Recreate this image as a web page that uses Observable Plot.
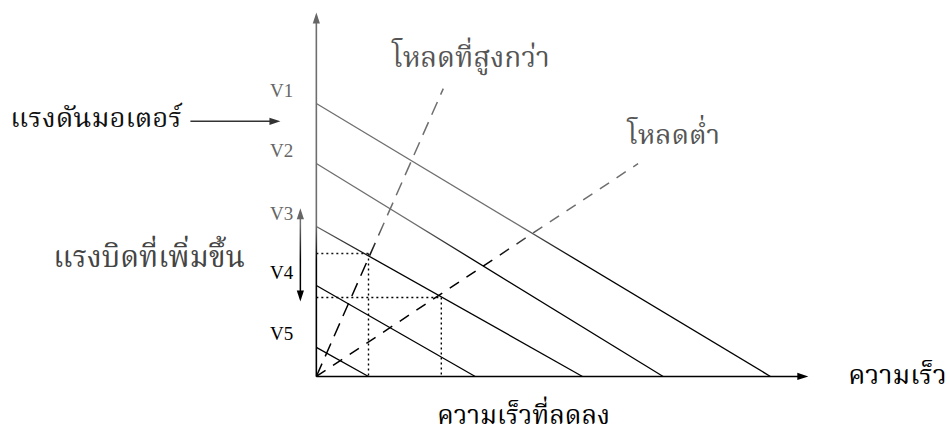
<!DOCTYPE html>
<html>
<head>
<meta charset="utf-8">
<script src="https://cdn.jsdelivr.net/npm/d3@7"></script>
<script src="https://cdn.jsdelivr.net/npm/@observablehq/plot@0.6"></script>
<style>
  body { margin: 0; background: #fff; }
</style>
</head>
<body>
<div id="chart"></div>
<script>
// Speed–torque lines of a DC motor at five supply voltages.
// Speed (x) and torque (y) are given in percent of the drawn axis length.
const voltages    = ["V1", "V2", "V3", "V4", "V5"];
const stallTorque = [75.0, 58.5, 41.2, 25.0, 8.0];   // torque at zero speed
const noLoadSpeed = [92.3, 70.5, 54.1, 32.3, 10.6];  // speed at zero torque

// Load lines start at the origin; these are their far ends
const loads         = ["โหลดที่สูงกว่า", "โหลดต่ำ"];
const loadEndSpeed  = [25.8, 65.4];
const loadEndTorque = [79.1, 58.5];

// Operating points where each load line meets the V3 line
const opSpeed  = [10.6, 25.4];
const opTorque = [33.8, 21.7];

// Axis and annotation texts
const axisLabels = {
  voltage: "แรงดันมอเตอร์",
  torqueUp: "แรงบิดที่เพิ่มขึ้น",
  speed: "ความเร็ว",
  speedDown: "ความเร็วที่ลดลง"
};

const motorLines = voltages.map((v, i) => ({v, t0: stallTorque[i], s0: noLoadSpeed[i]}));
const loadLines = loads.map((name, i) => ({name, s: loadEndSpeed[i], t: loadEndTorque[i]}));
const opPoints = opSpeed.map((s, i) => ({s, t: opTorque[i]}));

const thai = "'Noto Serif Thai','Noto Sans Thai','Laksaman','Norasi','Garuda','Loma',serif";
const ink = "url(#scan)";   // grey at the top, black at the bottom

const head = (data, opts) => Plot.vector(data, {
  length: 11, r: 3.6, shape: "spike", anchor: "end", stroke: "none", ...opts
});

const label = (text, opts) => Plot.text([text], {
  text: d => d, textAnchor: "start", lineAnchor: "bottom", fontFamily: thai, ...opts
});

const chart = Plot.plot({
  width: 950,
  height: 432,
  margin: 0,
  x: {domain: [-64.2, 128.9], axis: null},
  y: {domain: [-15.4, 103.3], axis: null},
  color: {type: "identity"},
  style: {background: "#fff", overflow: "visible"},
  marks: [
    // axes
    Plot.link([0], {x1: 0, y1: 0, x2: 0, y2: 99, stroke: ink, strokeWidth: 1.6}),
    head([0], {x: 0, y: 100, rotate: 0, fill: "#666"}),
    Plot.link([0], {x1: 0, y1: 0, x2: 99, y2: 0, stroke: "#000", strokeWidth: 1.6}),
    head([0], {x: 100, y: 0, rotate: 90, fill: "#000"}),

    // motor lines for each voltage
    Plot.link(motorLines, {x1: 0, y1: "t0", x2: "s0", y2: 0, stroke: ink, strokeWidth: 1.3}),
    Plot.text(motorLines, {
      x: 0, y: "t0", text: "v", dx: -23, dy: -13, textAnchor: "end",
      fontFamily: "'Liberation Serif', serif", fontSize: 19,
      fill: d => (d.t0 > 35 ? "#666" : "#000")
    }),

    // load lines
    Plot.link(loadLines.slice(0, 1), {x1: 0, y1: 0, x2: "s", y2: "t", stroke: ink, strokeWidth: 1.5, strokeDasharray: "14,8"}),
    Plot.link(loadLines.slice(1), {x1: 0, y1: 0, x2: "s", y2: "t", stroke: ink, strokeWidth: 1.5, strokeDasharray: "11,9"}),

    // operating points projected on the axes
    Plot.link(opPoints, {x1: 0, y1: "t", x2: "s", y2: "t", stroke: ink, strokeWidth: 1.4, strokeDasharray: "2,3"}),
    Plot.link(opPoints, {x1: "s", y1: "t", x2: "s", y2: 0, stroke: ink, strokeWidth: 1.4, strokeDasharray: "2,3"}),

    // load names
    label(loadLines[0].name, {x: 15.4, y: 84.9, fontSize: 28, fill: "#555"}),
    label(loadLines[1].name, {x: 63.2, y: 64.0, fontSize: 27.5, fill: "#555"}),

    // motor voltage annotation with arrow
    label(axisLabels.voltage, {x: -62.2, y: 68.6, fontSize: 27.5, fill: "#111"}),
    Plot.link([0], {x1: -25.6, y1: 70.1, x2: -8.5, y2: 70.1, stroke: "#333", strokeWidth: 1.5}),
    head([0], {x: -7.3, y: 70.1, rotate: 90, fill: "#333"}),

    // increased torque annotation with double arrow
    label(axisLabels.torqueUp, {x: -53.5, y: 30.2, fontSize: 29.5, fill: "#444"}),
    Plot.link([0], {x1: -3.25, y1: 22.5, x2: -3.25, y2: 44.5, stroke: ink, strokeWidth: 1.5}),
    head([0], {x: -3.25, y: 46.2, rotate: 0, fill: "#666"}),
    head([0], {x: -3.25, y: 20.6, rotate: 180, fill: "#000"}),

    // speed axis label and decreased speed annotation
    label(axisLabels.speed, {x: 108.1, y: -2.2, fontSize: 27, fill: "#000"}),
    label(axisLabels.speedDown, {x: 24.6, y: -13.2, fontSize: 26, fill: "#000"})
  ]
});

// vertical shading of the ink: grey towards the top, black towards the bottom
const g = d3.select(chart).insert("defs", ":first-child")
  .append("linearGradient")
  .attr("id", "scan")
  .attr("gradientUnits", "userSpaceOnUse")
  .attr("x1", 0).attr("y1", 0).attr("x2", 0).attr("y2", 432);
[[0, "#6e6e6e"], [0.52, "#6e6e6e"], [0.6, "#000"], [1, "#000"]].forEach(([o, c]) =>
  g.append("stop").attr("offset", o).attr("stop-color", c));

document.getElementById("chart").append(chart);
</script>
</body>
</html>
